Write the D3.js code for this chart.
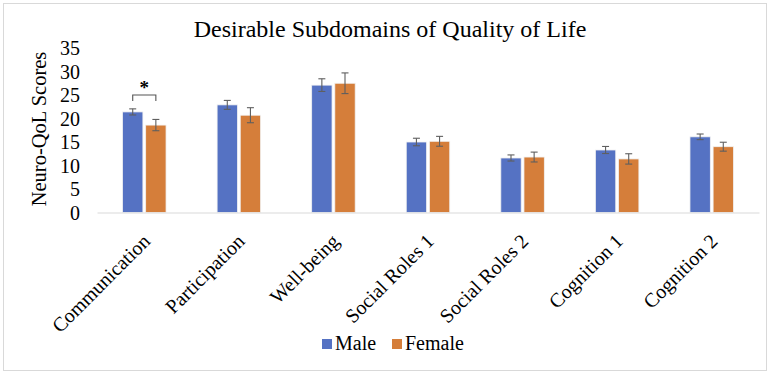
<!DOCTYPE html>
<html><head><meta charset="utf-8">
<script src="https://cdn.jsdelivr.net/npm/d3@7"></script>
<style>body{margin:0;background:#fff}svg{display:block}svg text{font-family:"Liberation Serif","Times New Roman",serif !important;fill:#000}</style>
</head><body>
<svg id="c" width="779" height="373"></svg>
<script>
const categories = ["Communication","Participation","Well-being","Social Roles 1","Social Roles 2","Cognition 1","Cognition 2"];
const seriesNames = ["Male","Female"];
const maleValues = [21.4, 22.9, 27.1, 15.0, 11.6, 13.3, 16.1];
const femaleValues = [18.6, 20.7, 27.5, 15.15, 11.8, 11.4, 14.0];
const maleErrors = [0.65, 0.95, 1.35, 0.8, 0.65, 0.75, 0.6];
const femaleErrors = [1.2, 1.6, 2.2, 1.05, 1.05, 1.1, 0.95];
const yTicks = [0,5,10,15,20,25,30,35];
const colors = ["#5572c3","#d57e3a"];

const svg = d3.select("#c");
svg.append("rect").attr("x",3.5).attr("y",3.5).attr("width",763).attr("height",367)
  .attr("fill","#fff").attr("stroke","#d9d9d9");

const x0 = d3.scaleBand().domain(categories).range([97,759]).paddingInner(0.54).paddingOuter(0.27);
const x1 = d3.scaleBand().domain(seriesNames).range([0,x0.bandwidth()]).paddingInner(0.12);
const y = d3.scaleLinear().domain([0,35]).range([212.5,48]);

svg.append("text").attr("x",390).attr("y",37).attr("text-anchor","middle").attr("font-size",24)
  .text("Desirable Subdomains of Quality of Life");

// y tick labels
const yAxis = d3.axisLeft(y).tickValues(yTicks).tickSize(0).tickPadding(0);
const gy = svg.append("g").attr("transform","translate(80,0)").call(yAxis);
gy.select(".domain").remove();
gy.selectAll("text").attr("font-size",20).attr("dy","0.33em");

svg.append("text").attr("transform","translate(46,129) rotate(-90)").attr("text-anchor","middle")
  .attr("font-size",20.5).text("Neuro-QoL Scores");

const data = categories.map((c,i)=>({c, vals:[
  {s:"Male", v:maleValues[i], e:maleErrors[i], col:colors[0]},
  {s:"Female", v:femaleValues[i], e:femaleErrors[i], col:colors[1]}]}));

const g = svg.append("g").selectAll("g").data(data).join("g")
  .attr("transform",d=>`translate(${x0(d.c)},0)`);
g.selectAll("rect").data(d=>d.vals).join("rect")
  .attr("x",d=>x1(d.s)).attr("width",x1.bandwidth())
  .attr("y",d=>y(d.v)).attr("height",d=>y(0)-y(d.v))
  .attr("fill",d=>d.col).attr("stroke","#f2f2f2").attr("stroke-width",0.8);

// error bars
const eb = g.selectAll("g.eb").data(d=>d.vals).join("g").attr("class","eb")
  .attr("stroke","#5f5f5f").attr("stroke-width",1.1);
eb.append("line").attr("x1",d=>x1(d.s)+x1.bandwidth()/2).attr("x2",d=>x1(d.s)+x1.bandwidth()/2)
  .attr("y1",d=>y(d.v+d.e)).attr("y2",d=>y(d.v-d.e));
eb.append("line").attr("x1",d=>x1(d.s)+x1.bandwidth()/2-3.5).attr("x2",d=>x1(d.s)+x1.bandwidth()/2+3.5)
  .attr("y1",d=>y(d.v+d.e)).attr("y2",d=>y(d.v+d.e));
eb.append("line").attr("x1",d=>x1(d.s)+x1.bandwidth()/2-3.5).attr("x2",d=>x1(d.s)+x1.bandwidth()/2+3.5)
  .attr("y1",d=>y(d.v-d.e)).attr("y2",d=>y(d.v-d.e));

// x axis
const xAxis = d3.axisBottom(x0).tickSize(0).tickPadding(0);
const gx = svg.append("g").attr("transform",`translate(0,${y(0)})`).call(xAxis);
gx.select(".domain").attr("stroke","#d9d9d9").attr("stroke-width",1.2);
gx.selectAll("text").attr("font-size",20)
  .attr("text-anchor","end").attr("dy",null).attr("y",0)
  .attr("transform","translate(7,30) rotate(-45)");

// significance bracket
const c0 = categories[0];
const bx1 = x0(c0)+x1("Male")+x1.bandwidth()/2, bx2 = x0(c0)+x1("Female")+x1.bandwidth()/2;
const by = y(25.0);
svg.append("path").attr("d",`M${bx1},${by+6}V${by}H${bx2}V${by+6}`).attr("fill","none")
  .attr("stroke","#555").attr("stroke-width",1.1);
svg.append("text").attr("x",(bx1+bx2)/2).attr("y",by-1).attr("text-anchor","middle")
  .attr("font-size",19).attr("font-weight","bold").text("*");

// legend
const leg = svg.append("g").selectAll("g").data(seriesNames).join("g")
  .attr("transform",(d,i)=>`translate(${[322,392][i]},339)`);
leg.append("rect").attr("width",10).attr("height",10).attr("fill",(d,i)=>colors[i]);
leg.append("text").attr("x",13).attr("y",10.5).attr("font-size",20).text(d=>d);
</script>
</body></html>
